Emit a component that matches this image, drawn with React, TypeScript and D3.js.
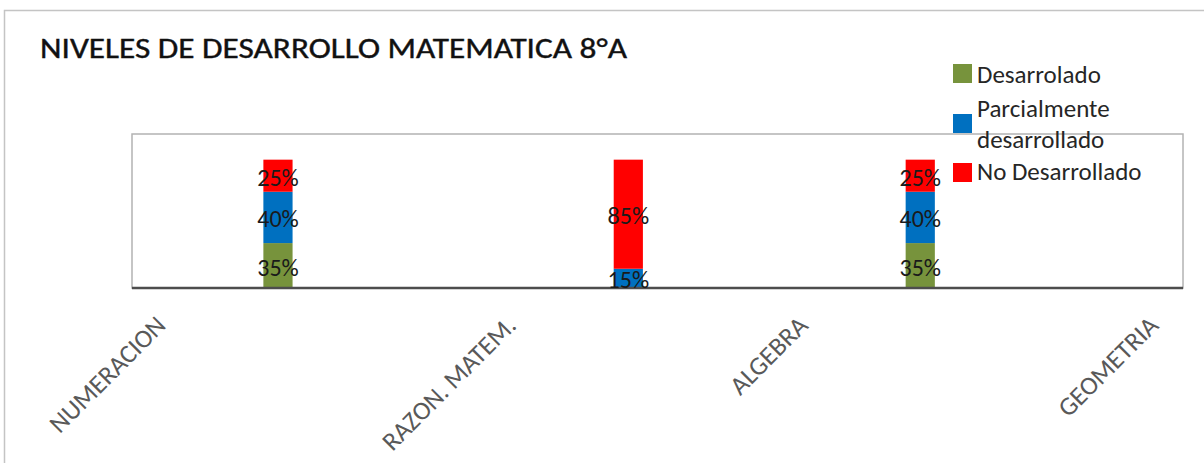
import React from "react";
import * as d3 from "d3";

// ---- data ----
const categories: string[] = [
  "NUMERACION", "", "", "", "", "",
  "RAZON. MATEM.", "", "", "", "",
  "ALGEBRA", "", "", "", "", "",
  "GEOMETRIA",
];
const desarrollado: number[] = [0, 0, 0.35, 0, 0, 0, 0, 0, 0, 0, 0, 0, 0, 0.35, 0, 0, 0, 0];
const parcialmente: number[] = [0, 0, 0.40, 0, 0, 0, 0, 0, 0.15, 0, 0, 0, 0, 0.40, 0, 0, 0, 0];
const noDesarrollado: number[] = [0, 0, 0.25, 0, 0, 0, 0, 0, 0.85, 0, 0, 0, 0, 0.25, 0, 0, 0, 0];
const seriesNames: string[] = ["Desarrolado", "Parcialmente desarrollado", "No Desarrollado"];
const legendLines: string[][] = [["Desarrolado"], ["Parcialmente", "desarrollado"], ["No Desarrollado"]];
const title = "NIVELES DE DESARROLLO MATEMATICA 8°A";

const COLORS = ["#77933C", "#0070C0", "#FF0000"];
const FONT = "Carlito, Calibri, Lato, 'Open Sans', sans-serif";

export default function App() {
  const W = 1204, H = 463;
  const plot = { x0: 132, x1: 1183, top: 134, base: 288 };

  const x = d3.scaleBand<number>()
    .domain(d3.range(categories.length))
    .range([plot.x0, plot.x1])
    .paddingInner(0.5)
    .paddingOuter(0.25);
  const y = d3.scaleLinear().domain([0, 1.2]).range([plot.base, plot.top]);

  const rows = categories.map((c, i) => ({
    i,
    s0: desarrollado[i],
    s1: parcialmente[i],
    s2: noDesarrollado[i],
  }));
  const stack = d3.stack<any>().keys(["s0", "s1", "s2"]);
  const layers = stack(rows);
  const fmt = d3.format(".0%");

  const legendTop = [83, 117, 180];
  const legendSq = [64, 114, 163];

  return (
    <svg width={W} height={H} style={{ position: "absolute", left: 0, top: 0, background: "#fff" }}>
      <rect x={4.5} y={10.5} width={1300} height={600} fill="#fff" stroke="#c4c4c4" strokeWidth={1.5} />
      <text x={40} y={58} fontFamily={FONT} fontSize={29} fill="#111" textLength={587} lengthAdjust="spacingAndGlyphs"
        stroke="#111" strokeWidth={0.4}>
        {title}
      </text>
      {/* plot area border */}
      <rect x={plot.x0} y={plot.top} width={plot.x1 - plot.x0} height={plot.base - plot.top}
        fill="none" stroke="#b3b3b3" strokeWidth={1.5} />
      {/* bars */}
      {layers.map((layer, li) => (
        <g key={li}>
          {layer.map((d, j) => {
            const v = d[1] - d[0];
            if (!(v > 0)) return null;
            return (
              <rect key={j} x={x(j)} width={x.bandwidth()} y={y(d[1])} height={y(d[0]) - y(d[1])}
                fill={COLORS[li]} />
            );
          })}
        </g>
      ))}
      {/* axis line */}
      <line x1={plot.x0} x2={plot.x1} y1={plot.base} y2={plot.base} stroke="#4d4d4d" strokeWidth={2.5} />
      {/* data labels */}
      {layers.map((layer, li) => (
        <g key={"l" + li}>
          {layer.map((d, j) => {
            const v = d[1] - d[0];
            if (!(v > 0)) return null;
            return (
              <text key={j} x={(x(j) as number) + x.bandwidth() / 2} y={(y(d[0]) + y(d[1])) / 2 + 10}
                textAnchor="middle" fontFamily={FONT} fontSize={24} fill="#1a1a1a">
                {fmt(v)}
              </text>
            );
          })}
        </g>
      ))}
      {/* category labels */}
      {categories.map((c, i) => c ? (
        <text key={"c" + i} transform={`translate(${(x(i) as number) + x.bandwidth() / 2 + 6},327) rotate(-45)`}
          textAnchor="end" fontFamily={FONT} fontSize={26} fill="#595959">
          {c}
        </text>
      ) : null)}
      {/* legend */}
      {seriesNames.map((s, i) => (
        <g key={"lg" + i}>
          <rect x={953} y={legendSq[i]} width={19} height={19} fill={COLORS[i]} />
          {legendLines[i].map((ln, k) => (
            <text key={k} x={977} y={legendTop[i] + k * 31} fontFamily={FONT} fontSize={25} fill="#262626">
              {ln}
            </text>
          ))}
        </g>
      ))}
    </svg>
  );
}
